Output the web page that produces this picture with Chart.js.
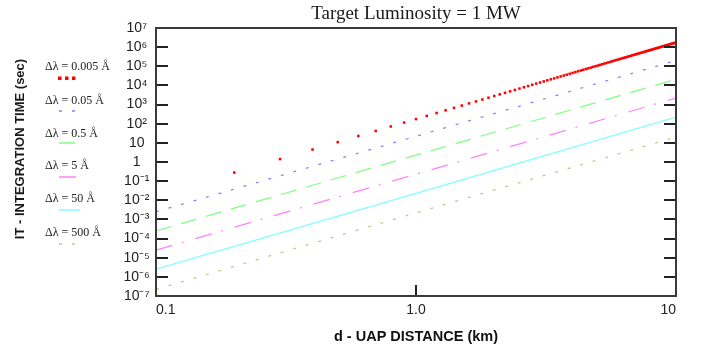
<!DOCTYPE html>
<html>
<head>
<meta charset="utf-8">
<script src="https://cdn.jsdelivr.net/npm/chart.js@4"></script>
<style>
  body { margin: 0; background: #fff; }
  canvas { display: block; }
</style>
</head>
<body>
<canvas id="itChart" width="701" height="351"></canvas>
<script>
// Axis ticks
const xTickValues = [0.1, 1, 10];
const xTickLabels = ['0.1', '1.0', '10'];
const yTickValues = [1e7, 1e6, 1e5, 1e4, 1e3, 1e2, 10, 1, 0.1, 1e-2, 1e-3, 1e-4, 1e-5, 1e-6, 1e-7];
const yTickLabels = ['10⁷', '10⁶', '10⁵', '10⁴', '10³', '10²', '10', '1', '10⁻¹', '10⁻²', '10⁻³', '10⁻⁴', '10⁻⁵', '10⁻⁶', '10⁻⁷'];

const seriesLabels = ['Δλ = 0.005 Å', 'Δλ = 0.05 Å', 'Δλ = 0.5 Å', 'Δλ = 5 Å', 'Δλ = 50 Å', 'Δλ = 500 Å'];

// Δλ = 0.005 Å : point markers
const redDistances = [0.2, 0.3, 0.4, 0.5, 0.6, 0.7, 0.8, 0.9,
    1.0, 1.1, 1.2, 1.3, 1.4, 1.5, 1.6, 1.7, 1.8, 1.9,
    2.0, 2.1, 2.2, 2.3, 2.4, 2.5, 2.6, 2.7, 2.8, 2.9,
    3.0, 3.1, 3.2, 3.3, 3.4, 3.5, 3.6, 3.7, 3.8, 3.9,
    4.0, 4.1, 4.2, 4.3, 4.4, 4.5, 4.6, 4.7, 4.8, 4.9,
    5.0, 5.1, 5.2, 5.3, 5.4, 5.5, 5.6, 5.7, 5.8, 5.9,
    6.0, 6.1, 6.2, 6.3, 6.4, 6.5, 6.6, 6.7, 6.8, 6.9,
    7.0, 7.1, 7.2, 7.3, 7.4, 7.5, 7.6, 7.7, 7.8, 7.9,
    8.0, 8.1, 8.2, 8.3, 8.4, 8.5, 8.6, 8.7, 8.8, 8.9,
    9.0, 9.1, 9.2, 9.3, 9.4, 9.5, 9.6, 9.7, 9.8, 9.9, 10];
const redTimes = [0.28, 1.42, 4.48, 10.9, 22.7, 42.0, 71.7, 115,
    175, 256, 363, 500, 672, 886, 1150, 1460, 1840, 2280,
    2800, 3400, 4100, 4900, 5810, 6840, 8000, 9300, 10800, 12400,
    14200, 16200, 18400, 20800, 23400, 26300, 29400, 32800, 36500, 40500,
    44800, 49500, 54500, 59800, 65600, 71800, 78400, 85400, 92900, 101000,
    109000, 118000, 128000, 138000, 149000, 160000, 172000, 185000, 198000, 212000,
    227000, 242000, 259000, 276000, 294000, 312000, 332000, 353000, 374000, 397000,
    420000, 445000, 470000, 497000, 525000, 554000, 584000, 615000, 648000, 682000,
    717000, 753000, 791000, 831000, 871000, 914000, 957000, 1000000, 1050000, 1100000,
    1150000, 1200000, 1250000, 1310000, 1370000, 1430000, 1490000, 1550000, 1610000, 1680000, 1750000];

// Other resolutions: straight lines on log-log, read at d = 0.1, 1, 10
const lineDistances = [0.1, 1, 10];
const times005 = [0.0025, 22, 200000];
const times05 = [0.00025, 2.3, 21000];
const times5 = [0.000025, 0.23, 2200];
const times50 = [0.0000025, 0.023, 224];
const times500 = [0.00000022, 0.0022, 20];

function toPoints(xs, ys) {
    return xs.map((x, i) => ({ x: x, y: ys[i] }));
}

const styles = [
    { color: '#ff0000', dash: [] },
    { color: '#7f7fff', dash: [3, 10] },
    { color: '#80ff80', dash: [16, 10] },
    { color: '#ff80ff', dash: [17, 10, 2, 12] },
    { color: '#80ffff', dash: [] },
    { color: '#c2c290', dash: [3, 10] }
];

const lineSeries = [times005, times05, times5, times50, times500];

const datasets = [{
    label: seriesLabels[0],
    data: toPoints(redDistances, redTimes),
    showLine: false,
    pointStyle: 'rect',
    pointRadius: 1.8,
    backgroundColor: styles[0].color,
    borderColor: styles[0].color,
    borderWidth: 0
}];
lineSeries.forEach((ys, i) => {
    datasets.push({
        label: seriesLabels[i + 1],
        data: toPoints(lineDistances, ys),
        showLine: true,
        pointRadius: 0,
        borderColor: styles[i + 1].color,
        borderWidth: 1.2,
        borderDash: styles[i + 1].dash
    });
});

// frame, inward ticks, title and the side legend
const decorPlugin = {
    id: 'decor',
    afterDraw(chart) {
        const ctx = chart.ctx;
        const area = chart.chartArea;
        const yScale = chart.scales.y;
        const xScale = chart.scales.x;
        ctx.save();

        ctx.strokeStyle = '#222';
        ctx.lineWidth = 2;
        yTickValues.forEach(v => {
            if (v === 1e7 || v === 1e-7) return;
            const py = Math.round(yScale.getPixelForValue(v));
            ctx.beginPath();
            ctx.moveTo(area.left, py);
            ctx.lineTo(area.left + 12, py);
            ctx.moveTo(area.right - 12, py);
            ctx.lineTo(area.right, py);
            ctx.stroke();
        });
        const px = Math.round(xScale.getPixelForValue(1));
        ctx.beginPath();
        ctx.moveTo(px, area.bottom);
        ctx.lineTo(px, area.bottom - 11);
        ctx.stroke();

        ctx.strokeStyle = '#3a3a3a';
        ctx.strokeRect(area.left, area.top, area.right - area.left, area.bottom - area.top);

        // title
        ctx.fillStyle = '#1a1a1a';
        ctx.font = '19px "Liberation Serif"';
        ctx.textAlign = 'center';
        ctx.textBaseline = 'alphabetic';
        ctx.fillText('Target Luminosity = 1 MW', (area.left + area.right) / 2, 19);

        // y title
        ctx.save();
        ctx.translate(20, 149);
        ctx.rotate(-Math.PI / 2);
        ctx.font = 'bold 13px "Liberation Sans"';
        ctx.textBaseline = 'middle';
        ctx.fillText('IT - INTEGRATION TIME (sec)', 0, 0);
        ctx.restore();

        // legend
        const textY = [67, 101, 134, 166, 199, 233];
        const sampleY = [78, 111, 143, 177, 210, 244];
        ctx.font = '12px "Liberation Serif"';
        ctx.textAlign = 'left';
        ctx.textBaseline = 'middle';
        chart.data.datasets.forEach((ds, i) => {
            ctx.fillStyle = '#222';
            ctx.fillText(ds.label, 45, textY[i]);
            if (i === 0) {
                ctx.fillStyle = styles[0].color;
                [58, 65, 72].forEach(sx => ctx.fillRect(sx, sampleY[i] - 1.5, 3.5, 3.5));
            } else {
                ctx.strokeStyle = styles[i].color;
                ctx.lineWidth = 1.5;
                ctx.setLineDash(styles[i].dash);
                ctx.beginPath();
                ctx.moveTo(59, sampleY[i]);
                ctx.lineTo(i === 4 ? 80 : 77, sampleY[i]);
                ctx.stroke();
                ctx.setLineDash([]);
            }
        });
        ctx.restore();
    }
};

new Chart(document.getElementById('itChart'), {
    type: 'scatter',
    data: { datasets: datasets },
    options: {
        responsive: false,
        animation: false,
        layout: { padding: { top: 28, right: 25, left: 0, bottom: 0 } },
        plugins: {
            legend: { display: false },
            tooltip: { enabled: false }
        },
        scales: {
            x: {
                type: 'logarithmic',
                min: 0.1,
                max: 10,
                grid: { display: false, drawTicks: false },
                border: { display: false },
                afterBuildTicks: scale => { scale.ticks = xTickValues.map(v => ({ value: v })); },
                afterFit: scale => { scale.height = 55; },
                ticks: {
                    autoSkip: false,
                    maxRotation: 0,
                    align: 'inner',
                    padding: 6,
                    color: '#222',
                    font: { family: '"Liberation Sans"', size: 14 },
                    callback: v => xTickLabels[xTickValues.indexOf(v)]
                },
                title: {
                    display: true,
                    text: 'd - UAP DISTANCE (km)',
                    color: '#111',
                    font: { family: '"Liberation Sans"', size: 14.5, weight: 'bold' },
                    padding: { top: 0, bottom: 5 }
                }
            },
            y: {
                type: 'logarithmic',
                min: 1e-7,
                max: 1e7,
                grid: { display: false, drawTicks: false },
                border: { display: false },
                afterBuildTicks: scale => { scale.ticks = yTickValues.map(v => ({ value: v })); },
                afterFit: scale => { scale.width = 156; },
                ticks: {
                    autoSkip: false,
                    crossAlign: 'center',
                    padding: 6,
                    color: '#222',
                    font: { family: '"Liberation Sans"', size: 14 },
                    callback: v => yTickLabels[yTickValues.indexOf(v)]
                }
            }
        }
    },
    plugins: [decorPlugin]
});
</script>
</body>
</html>
